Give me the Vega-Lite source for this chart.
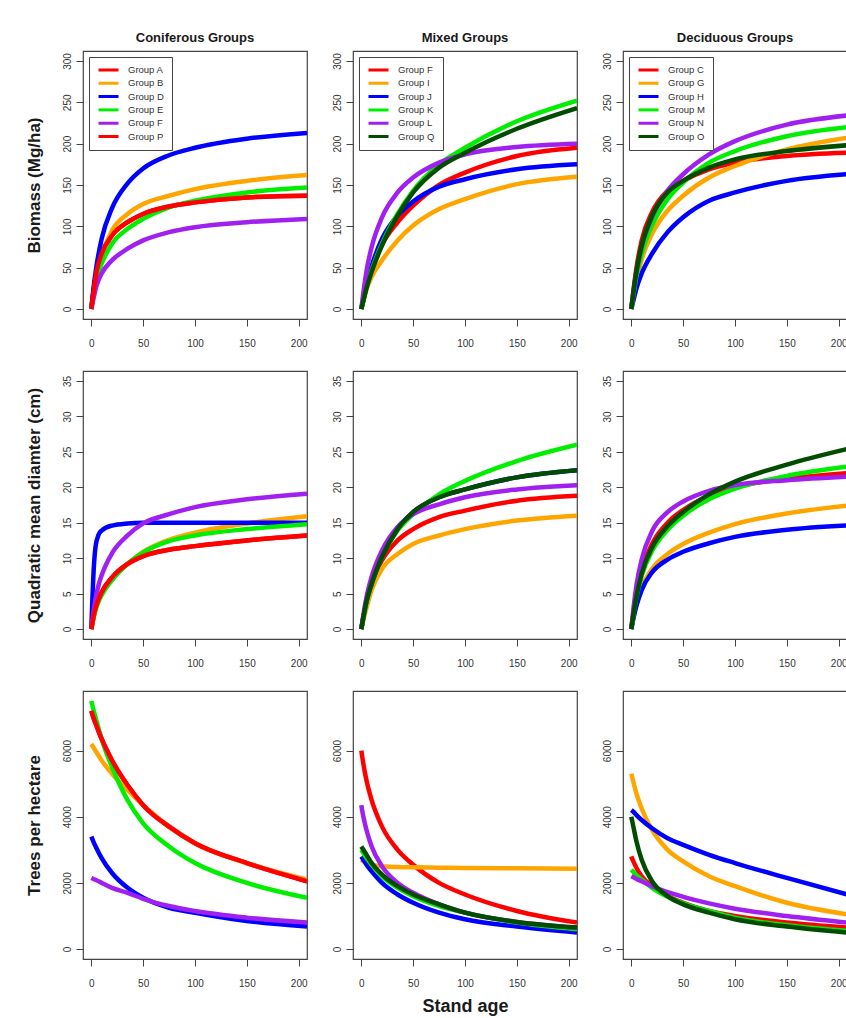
{
  "$schema": "https://vega.github.io/schema/vega-lite/v6.json",
  "background": "white",
  "padding": {"left": 24, "top": 31, "right": 0, "bottom": 0},
  "datasets": {
    "cb": [
      {"t":0,"Group A":0,"Group B":0,"Group D":0,"Group E":0,"Group F":0,"Group P":0},
      {"t":2,"Group A":20,"Group B":20,"Group D":24,"Group E":15,"Group F":12,"Group P":20},
      {"t":5,"Group A":45,"Group B":42,"Group D":52,"Group E":36,"Group F":28,"Group P":45},
      {"t":10,"Group A":67,"Group B":65,"Group D":85,"Group E":55,"Group F":43,"Group P":67},
      {"t":20,"Group A":89,"Group B":95,"Group D":122,"Group E":79,"Group F":59,"Group P":89},
      {"t":35,"Group A":105,"Group B":115,"Group D":152,"Group E":97,"Group F":73,"Group P":105},
      {"t":50,"Group A":115,"Group B":127,"Group D":170,"Group E":109,"Group F":83,"Group P":115},
      {"t":75,"Group A":124,"Group B":137,"Group D":186,"Group E":123,"Group F":93,"Group P":124},
      {"t":100,"Group A":129,"Group B":145,"Group D":195,"Group E":131,"Group F":99,"Group P":129},
      {"t":150,"Group A":135,"Group B":155,"Group D":206,"Group E":141,"Group F":105,"Group P":135},
      {"t":208,"Group A":137,"Group B":162,"Group D":213,"Group E":147,"Group F":109,"Group P":137}
    ],
    "mb": [
      {"t":0,"Group F":0,"Group I":0,"Group J":0,"Group K":0,"Group L":0,"Group Q":0},
      {"t":2,"Group F":11,"Group I":10,"Group J":12,"Group K":10,"Group L":20,"Group Q":10},
      {"t":5,"Group F":27,"Group I":24,"Group J":30,"Group K":27,"Group L":46,"Group Q":25},
      {"t":10,"Group F":48,"Group I":39,"Group J":52,"Group K":47,"Group L":75,"Group Q":45},
      {"t":20,"Group F":78,"Group I":59,"Group J":85,"Group K":79,"Group L":111,"Group Q":77},
      {"t":35,"Group F":105,"Group I":83,"Group J":113,"Group K":115,"Group L":141,"Group Q":113},
      {"t":50,"Group F":125,"Group I":101,"Group J":130,"Group K":143,"Group L":159,"Group Q":141},
      {"t":75,"Group F":150,"Group I":121,"Group J":148,"Group K":175,"Group L":177,"Group Q":171},
      {"t":100,"Group F":165,"Group I":133,"Group J":157,"Group K":195,"Group L":187,"Group Q":189},
      {"t":150,"Group F":185,"Group I":151,"Group J":169,"Group K":227,"Group L":196,"Group Q":218},
      {"t":208,"Group F":195,"Group I":160,"Group J":175,"Group K":252,"Group L":200,"Group Q":243}
    ],
    "db": [
      {"t":0,"Group C":0,"Group G":0,"Group H":0,"Group M":0,"Group N":0,"Group O":0},
      {"t":2,"Group C":22,"Group G":15,"Group H":10,"Group M":17,"Group N":20,"Group O":20},
      {"t":5,"Group C":50,"Group G":35,"Group H":25,"Group M":40,"Group N":45,"Group O":46},
      {"t":10,"Group C":83,"Group G":60,"Group H":43,"Group M":67,"Group N":75,"Group O":77},
      {"t":20,"Group C":117,"Group G":91,"Group H":67,"Group M":101,"Group N":111,"Group O":113},
      {"t":35,"Group C":143,"Group G":119,"Group H":93,"Group M":133,"Group N":143,"Group O":141},
      {"t":50,"Group C":155,"Group G":137,"Group H":111,"Group M":153,"Group N":163,"Group O":155},
      {"t":75,"Group C":169,"Group G":159,"Group H":131,"Group M":177,"Group N":187,"Group O":171},
      {"t":100,"Group C":177,"Group G":173,"Group H":141,"Group M":191,"Group N":203,"Group O":181},
      {"t":150,"Group C":185,"Group G":193,"Group H":155,"Group M":209,"Group N":223,"Group O":191},
      {"t":208,"Group C":189,"Group G":207,"Group H":163,"Group M":220,"Group N":234,"Group O":198}
    ],
    "cq": [
      {"t":0,"Group A":0,"Group B":0,"Group D":0,"Group E":0,"Group F":0,"Group P":0},
      {"t":1,"Group A":0.8,"Group B":0.8,"Group D":4,"Group E":0.8,"Group F":1.2,"Group P":0.8},
      {"t":2,"Group A":1.6,"Group B":1.5,"Group D":7.5,"Group E":1.5,"Group F":2.3,"Group P":1.6},
      {"t":4,"Group A":2.9,"Group B":2.7,"Group D":11.5,"Group E":2.7,"Group F":4.2,"Group P":2.9},
      {"t":7,"Group A":4.2,"Group B":4.0,"Group D":13.3,"Group E":3.9,"Group F":6.2,"Group P":4.2},
      {"t":10,"Group A":5.2,"Group B":5.0,"Group D":13.9,"Group E":4.8,"Group F":7.6,"Group P":5.2},
      {"t":20,"Group A":7.3,"Group B":7.1,"Group D":14.6,"Group E":6.9,"Group F":10.7,"Group P":7.3},
      {"t":35,"Group A":9.2,"Group B":9.2,"Group D":14.9,"Group E":9.2,"Group F":13.2,"Group P":9.2},
      {"t":50,"Group A":10.3,"Group B":10.9,"Group D":15,"Group E":10.8,"Group F":14.9,"Group P":10.3},
      {"t":75,"Group A":11.2,"Group B":12.6,"Group D":15,"Group E":12.4,"Group F":16.2,"Group P":11.2},
      {"t":100,"Group A":11.7,"Group B":13.6,"Group D":15,"Group E":13.2,"Group F":17.2,"Group P":11.7},
      {"t":150,"Group A":12.5,"Group B":14.9,"Group D":15,"Group E":14.1,"Group F":18.3,"Group P":12.5},
      {"t":208,"Group A":13.2,"Group B":15.9,"Group D":15,"Group E":14.8,"Group F":19.1,"Group P":13.2}
    ],
    "mq": [
      {"t":0,"Group F":0,"Group I":0,"Group J":0,"Group K":0,"Group L":0,"Group Q":0},
      {"t":2,"Group F":1.6,"Group I":1.3,"Group J":1.7,"Group K":1.6,"Group L":2.0,"Group Q":1.7},
      {"t":5,"Group F":3.7,"Group I":3.0,"Group J":3.9,"Group K":3.8,"Group L":4.5,"Group Q":3.9},
      {"t":10,"Group F":6.4,"Group I":5.5,"Group J":6.4,"Group K":6.4,"Group L":7.4,"Group Q":6.4},
      {"t":20,"Group F":9.7,"Group I":8.5,"Group J":10.2,"Group K":10.2,"Group L":11.1,"Group Q":10.2},
      {"t":35,"Group F":12.5,"Group I":10.6,"Group J":14.1,"Group K":13.9,"Group L":14.4,"Group Q":14.1},
      {"t":50,"Group F":14.1,"Group I":12.0,"Group J":16.5,"Group K":16.2,"Group L":16.2,"Group Q":16.5},
      {"t":75,"Group F":15.8,"Group I":13.2,"Group J":18.6,"Group K":19.0,"Group L":17.6,"Group Q":18.6},
      {"t":100,"Group F":16.7,"Group I":14.1,"Group J":19.7,"Group K":20.9,"Group L":18.6,"Group Q":19.7},
      {"t":150,"Group F":18.1,"Group I":15.3,"Group J":21.4,"Group K":23.7,"Group L":19.7,"Group Q":21.4},
      {"t":208,"Group F":18.8,"Group I":16.0,"Group J":22.4,"Group K":26.0,"Group L":20.3,"Group Q":22.4}
    ],
    "dq": [
      {"t":0,"Group C":0,"Group G":0,"Group H":0,"Group M":0,"Group N":0,"Group O":0},
      {"t":2,"Group C":2.2,"Group G":1.5,"Group H":1.5,"Group M":2.0,"Group N":2.8,"Group O":2.0},
      {"t":5,"Group C":5.0,"Group G":3.5,"Group H":3.3,"Group M":4.5,"Group N":6.2,"Group O":4.6},
      {"t":10,"Group C":8.2,"Group G":5.8,"Group H":5.5,"Group M":7.5,"Group N":9.8,"Group O":7.8},
      {"t":20,"Group C":12.0,"Group G":8.5,"Group H":8.0,"Group M":11.0,"Group N":13.8,"Group O":11.5},
      {"t":35,"Group C":15.0,"Group G":10.6,"Group H":9.8,"Group M":14.0,"Group N":16.5,"Group O":14.5},
      {"t":50,"Group C":16.8,"Group G":12.0,"Group H":10.9,"Group M":16.0,"Group N":18.0,"Group O":16.5},
      {"t":75,"Group C":18.8,"Group G":13.6,"Group H":12.1,"Group M":18.3,"Group N":19.5,"Group O":19.0},
      {"t":100,"Group C":20.0,"Group G":14.8,"Group H":13.0,"Group M":19.8,"Group N":20.3,"Group O":20.8},
      {"t":150,"Group C":21.2,"Group G":16.3,"Group H":14.0,"Group M":21.6,"Group N":21.0,"Group O":23.2},
      {"t":208,"Group C":22.0,"Group G":17.4,"Group H":14.6,"Group M":22.9,"Group N":21.5,"Group O":25.4}
    ],
    "ct": [
      {"t":0,"Group A":7200,"Group B":6200,"Group D":3400,"Group E":7500,"Group F":2150,"Group P":7200},
      {"t":2,"Group A":7000,"Group B":6100,"Group D":3250,"Group E":7250,"Group F":2120,"Group P":7000},
      {"t":5,"Group A":6750,"Group B":5950,"Group D":3050,"Group E":6900,"Group F":2080,"Group P":6750},
      {"t":10,"Group A":6350,"Group B":5700,"Group D":2750,"Group E":6350,"Group F":2000,"Group P":6350},
      {"t":20,"Group A":5700,"Group B":5300,"Group D":2300,"Group E":5500,"Group F":1850,"Group P":5700},
      {"t":35,"Group A":4950,"Group B":4800,"Group D":1850,"Group E":4500,"Group F":1700,"Group P":4950},
      {"t":50,"Group A":4350,"Group B":4350,"Group D":1550,"Group E":3800,"Group F":1520,"Group P":4350},
      {"t":75,"Group A":3700,"Group B":3700,"Group D":1250,"Group E":3100,"Group F":1300,"Group P":3700},
      {"t":100,"Group A":3200,"Group B":3200,"Group D":1100,"Group E":2600,"Group F":1150,"Group P":3200},
      {"t":150,"Group A":2600,"Group B":2600,"Group D":850,"Group E":2000,"Group F":950,"Group P":2600},
      {"t":208,"Group A":2050,"Group B":2100,"Group D":680,"Group E":1550,"Group F":800,"Group P":2050}
    ],
    "mt": [
      {"t":0,"Group F":6000,"Group I":2700,"Group J":2800,"Group K":3000,"Group L":4350,"Group Q":3100},
      {"t":2,"Group F":5600,"Group I":2650,"Group J":2700,"Group K":2900,"Group L":4000,"Group Q":3000},
      {"t":5,"Group F":5100,"Group I":2600,"Group J":2550,"Group K":2750,"Group L":3600,"Group Q":2850},
      {"t":10,"Group F":4500,"Group I":2550,"Group J":2350,"Group K":2550,"Group L":3100,"Group Q":2600},
      {"t":20,"Group F":3700,"Group I":2500,"Group J":2000,"Group K":2200,"Group L":2500,"Group Q":2250},
      {"t":35,"Group F":3000,"Group I":2480,"Group J":1650,"Group K":1850,"Group L":2000,"Group Q":1900},
      {"t":50,"Group F":2550,"Group I":2470,"Group J":1400,"Group K":1600,"Group L":1700,"Group Q":1650},
      {"t":75,"Group F":2000,"Group I":2460,"Group J":1100,"Group K":1300,"Group L":1350,"Group Q":1350},
      {"t":100,"Group F":1650,"Group I":2450,"Group J":900,"Group K":1100,"Group L":1100,"Group Q":1100},
      {"t":150,"Group F":1150,"Group I":2440,"Group J":680,"Group K":800,"Group L":820,"Group Q":820},
      {"t":208,"Group F":800,"Group I":2430,"Group J":500,"Group K":600,"Group L":650,"Group Q":650}
    ],
    "dt": [
      {"t":0,"Group C":2800,"Group G":5300,"Group H":4200,"Group M":2400,"Group N":2200,"Group O":4000},
      {"t":2,"Group C":2650,"Group G":5050,"Group H":4150,"Group M":2330,"Group N":2170,"Group O":3700},
      {"t":5,"Group C":2450,"Group G":4700,"Group H":4050,"Group M":2230,"Group N":2120,"Group O":3250},
      {"t":10,"Group C":2200,"Group G":4250,"Group H":3900,"Group M":2100,"Group N":2050,"Group O":2700},
      {"t":20,"Group C":1900,"Group G":3600,"Group H":3650,"Group M":1850,"Group N":1900,"Group O":2050},
      {"t":35,"Group C":1600,"Group G":3000,"Group H":3350,"Group M":1580,"Group N":1720,"Group O":1600},
      {"t":50,"Group C":1400,"Group G":2650,"Group H":3150,"Group M":1380,"Group N":1580,"Group O":1350},
      {"t":75,"Group C":1150,"Group G":2200,"Group H":2850,"Group M":1150,"Group N":1380,"Group O":1100},
      {"t":100,"Group C":1000,"Group G":1900,"Group H":2600,"Group M":950,"Group N":1220,"Group O":900},
      {"t":150,"Group C":800,"Group G":1400,"Group H":2150,"Group M":720,"Group N":1000,"Group O":680},
      {"t":208,"Group C":650,"Group G":1050,"Group H":1650,"Group M":550,"Group N":800,"Group O":500}
    ]
  },
  "columns": 3,
  "spacing": {"row": 52, "column": 46},
  "bounds": "flush",
  "resolve": {"scale": {"x": "independent", "y": "independent", "color": "independent"}, "legend": {"color": "independent"}},
  "concat": [
    {
      "width": 224, "height": 268, "title": "Coniferous Groups",
      "data": {"name": "cb"},
      "transform": [{"fold": ["Group A","Group B","Group D","Group E","Group F","Group P"], "as": ["g","v"]}],
      "mark": {"type": "line", "interpolate": "monotone", "strokeWidth": 4.5, "clip": true},
      "encoding": {
        "x": {"field": "t", "type": "quantitative", "scale": {"domain": [-8,208], "nice": false, "zero": false}, "axis": {"values": [0,50,100,150,200], "title": null}},
        "y": {"field": "v", "type": "quantitative", "scale": {"domain": [-12,312], "nice": false, "zero": false}, "axis": {"values": [0,50,100,150,200,250,300], "title": "Biomass (Mg/ha)"}},
        "color": {"field": "g", "type": "nominal", "scale": {"domain": ["Group A","Group B","Group D","Group E","Group F","Group P"], "range": ["#ff0000","#ffa500","#0000ff","#00ee00","#a020f0","#ff0000"]}, "legend": {"orient": "top-left", "title": null}}
      }
    },
    {
      "width": 224, "height": 268, "title": "Mixed Groups",
      "data": {"name": "mb"},
      "transform": [{"fold": ["Group F","Group I","Group J","Group K","Group L","Group Q"], "as": ["g","v"]}],
      "mark": {"type": "line", "interpolate": "monotone", "strokeWidth": 4.5, "clip": true},
      "encoding": {
        "x": {"field": "t", "type": "quantitative", "scale": {"domain": [-8,208], "nice": false, "zero": false}, "axis": {"values": [0,50,100,150,200], "title": null}},
        "y": {"field": "v", "type": "quantitative", "scale": {"domain": [-12,312], "nice": false, "zero": false}, "axis": {"values": [0,50,100,150,200,250,300], "title": null}},
        "color": {"field": "g", "type": "nominal", "scale": {"domain": ["Group F","Group I","Group J","Group K","Group L","Group Q"], "range": ["#ff0000","#ffa500","#0000ff","#00ee00","#a020f0","#004d00"]}, "legend": {"orient": "top-left", "title": null}}
      }
    },
    {
      "width": 224, "height": 268, "title": "Deciduous Groups",
      "data": {"name": "db"},
      "transform": [{"fold": ["Group C","Group G","Group H","Group M","Group N","Group O"], "as": ["g","v"]}],
      "mark": {"type": "line", "interpolate": "monotone", "strokeWidth": 4.5, "clip": true},
      "encoding": {
        "x": {"field": "t", "type": "quantitative", "scale": {"domain": [-8,208], "nice": false, "zero": false}, "axis": {"values": [0,50,100,150,200], "title": null}},
        "y": {"field": "v", "type": "quantitative", "scale": {"domain": [-12,312], "nice": false, "zero": false}, "axis": {"values": [0,50,100,150,200,250,300], "title": null}},
        "color": {"field": "g", "type": "nominal", "scale": {"domain": ["Group C","Group G","Group H","Group M","Group N","Group O"], "range": ["#ff0000","#ffa500","#0000ff","#00ee00","#a020f0","#004d00"]}, "legend": {"orient": "top-left", "title": null}}
      }
    },
    {
      "width": 224, "height": 268,
      "data": {"name": "cq"},
      "transform": [{"fold": ["Group A","Group B","Group D","Group E","Group F","Group P"], "as": ["g","v"]}],
      "mark": {"type": "line", "interpolate": "monotone", "strokeWidth": 4.5, "clip": true},
      "encoding": {
        "x": {"field": "t", "type": "quantitative", "scale": {"domain": [-8,208], "nice": false, "zero": false}, "axis": {"values": [0,50,100,150,200], "title": null}},
        "y": {"field": "v", "type": "quantitative", "scale": {"domain": [-1.4,36.4], "nice": false, "zero": false}, "axis": {"values": [0,5,10,15,20,25,30,35], "title": "Quadratic mean diamter (cm)"}},
        "color": {"field": "g", "type": "nominal", "scale": {"domain": ["Group A","Group B","Group D","Group E","Group F","Group P"], "range": ["#ff0000","#ffa500","#0000ff","#00ee00","#a020f0","#ff0000"]}, "legend": null}
      }
    },
    {
      "width": 224, "height": 268,
      "data": {"name": "mq"},
      "transform": [{"fold": ["Group F","Group I","Group J","Group K","Group L","Group Q"], "as": ["g","v"]}],
      "mark": {"type": "line", "interpolate": "monotone", "strokeWidth": 4.5, "clip": true},
      "encoding": {
        "x": {"field": "t", "type": "quantitative", "scale": {"domain": [-8,208], "nice": false, "zero": false}, "axis": {"values": [0,50,100,150,200], "title": null}},
        "y": {"field": "v", "type": "quantitative", "scale": {"domain": [-1.4,36.4], "nice": false, "zero": false}, "axis": {"values": [0,5,10,15,20,25,30,35], "title": null}},
        "color": {"field": "g", "type": "nominal", "scale": {"domain": ["Group F","Group I","Group J","Group K","Group L","Group Q"], "range": ["#ff0000","#ffa500","#0000ff","#00ee00","#a020f0","#004d00"]}, "legend": null}
      }
    },
    {
      "width": 224, "height": 268,
      "data": {"name": "dq"},
      "transform": [{"fold": ["Group C","Group G","Group H","Group M","Group N","Group O"], "as": ["g","v"]}],
      "mark": {"type": "line", "interpolate": "monotone", "strokeWidth": 4.5, "clip": true},
      "encoding": {
        "x": {"field": "t", "type": "quantitative", "scale": {"domain": [-8,208], "nice": false, "zero": false}, "axis": {"values": [0,50,100,150,200], "title": null}},
        "y": {"field": "v", "type": "quantitative", "scale": {"domain": [-1.4,36.4], "nice": false, "zero": false}, "axis": {"values": [0,5,10,15,20,25,30,35], "title": null}},
        "color": {"field": "g", "type": "nominal", "scale": {"domain": ["Group C","Group G","Group H","Group M","Group N","Group O"], "range": ["#ff0000","#ffa500","#0000ff","#00ee00","#a020f0","#004d00"]}, "legend": null}
      }
    },
    {
      "width": 224, "height": 268,
      "data": {"name": "ct"},
      "transform": [{"fold": ["Group A","Group B","Group D","Group E","Group F","Group P"], "as": ["g","v"]}],
      "mark": {"type": "line", "interpolate": "monotone", "strokeWidth": 4.5, "clip": true},
      "encoding": {
        "x": {"field": "t", "type": "quantitative", "scale": {"domain": [-8,208], "nice": false, "zero": false}, "axis": {"values": [0,50,100,150,200], "title": null}},
        "y": {"field": "v", "type": "quantitative", "scale": {"domain": [-300,7800], "nice": false, "zero": false}, "axis": {"values": [0,2000,4000,6000], "format": "d", "title": "Trees per hectare"}},
        "color": {"field": "g", "type": "nominal", "scale": {"domain": ["Group A","Group B","Group D","Group E","Group F","Group P"], "range": ["#ff0000","#ffa500","#0000ff","#00ee00","#a020f0","#ff0000"]}, "legend": null}
      }
    },
    {
      "width": 224, "height": 268,
      "data": {"name": "mt"},
      "transform": [{"fold": ["Group F","Group I","Group J","Group K","Group L","Group Q"], "as": ["g","v"]}],
      "mark": {"type": "line", "interpolate": "monotone", "strokeWidth": 4.5, "clip": true},
      "encoding": {
        "x": {"field": "t", "type": "quantitative", "scale": {"domain": [-8,208], "nice": false, "zero": false}, "axis": {"values": [0,50,100,150,200], "title": "Stand age", "titleFontSize": 18, "titleY": 47, "titleBaseline": "middle"}},
        "y": {"field": "v", "type": "quantitative", "scale": {"domain": [-300,7800], "nice": false, "zero": false}, "axis": {"values": [0,2000,4000,6000], "format": "d", "title": null}},
        "color": {"field": "g", "type": "nominal", "scale": {"domain": ["Group F","Group I","Group J","Group K","Group L","Group Q"], "range": ["#ff0000","#ffa500","#0000ff","#00ee00","#a020f0","#004d00"]}, "legend": null}
      }
    },
    {
      "width": 224, "height": 268,
      "data": {"name": "dt"},
      "transform": [{"fold": ["Group C","Group G","Group H","Group M","Group N","Group O"], "as": ["g","v"]}],
      "mark": {"type": "line", "interpolate": "monotone", "strokeWidth": 4.5, "clip": true},
      "encoding": {
        "x": {"field": "t", "type": "quantitative", "scale": {"domain": [-8,208], "nice": false, "zero": false}, "axis": {"values": [0,50,100,150,200], "title": null}},
        "y": {"field": "v", "type": "quantitative", "scale": {"domain": [-300,7800], "nice": false, "zero": false}, "axis": {"values": [0,2000,4000,6000], "format": "d", "title": null}},
        "color": {"field": "g", "type": "nominal", "scale": {"domain": ["Group C","Group G","Group H","Group M","Group N","Group O"], "range": ["#ff0000","#ffa500","#0000ff","#00ee00","#a020f0","#004d00"]}, "legend": null}
      }
    }
  ],
  "config": {
    "font": "Liberation Sans",
    "view": {"stroke": "#444", "strokeWidth": 1.2},
    "axis": {"grid": false, "domain": false, "tickSize": 7, "tickColor": "#444", "labelColor": "#333", "labelFont": "Liberation Sans", "labelFontSize": 10, "titleFont": "Liberation Sans", "titleFontWeight": "bold", "titleFontSize": 17, "titleColor": "#1a1a1a"},
    "axisX": {"labelPadding": 12},
    "axisY": {"labelAngle": -90, "labelAlign": "center", "labelBaseline": "bottom", "labelPadding": 4, "titleX": -49, "titleBaseline": "middle"},
    "title": {"font": "Liberation Sans", "fontSize": 13, "fontWeight": "bold", "offset": 6, "color": "#1a1a1a", "baseline": "bottom"},
    "legend": {"offset": 6, "padding": 8, "strokeColor": "#444", "fillColor": "white", "symbolType": "stroke", "symbolSize": 400, "symbolStrokeWidth": 3, "labelFontSize": 9.5, "labelFont": "Liberation Sans", "labelColor": "#333", "labelOffset": 8, "rowPadding": 3.3, "clipHeight": 10}
  }
}
